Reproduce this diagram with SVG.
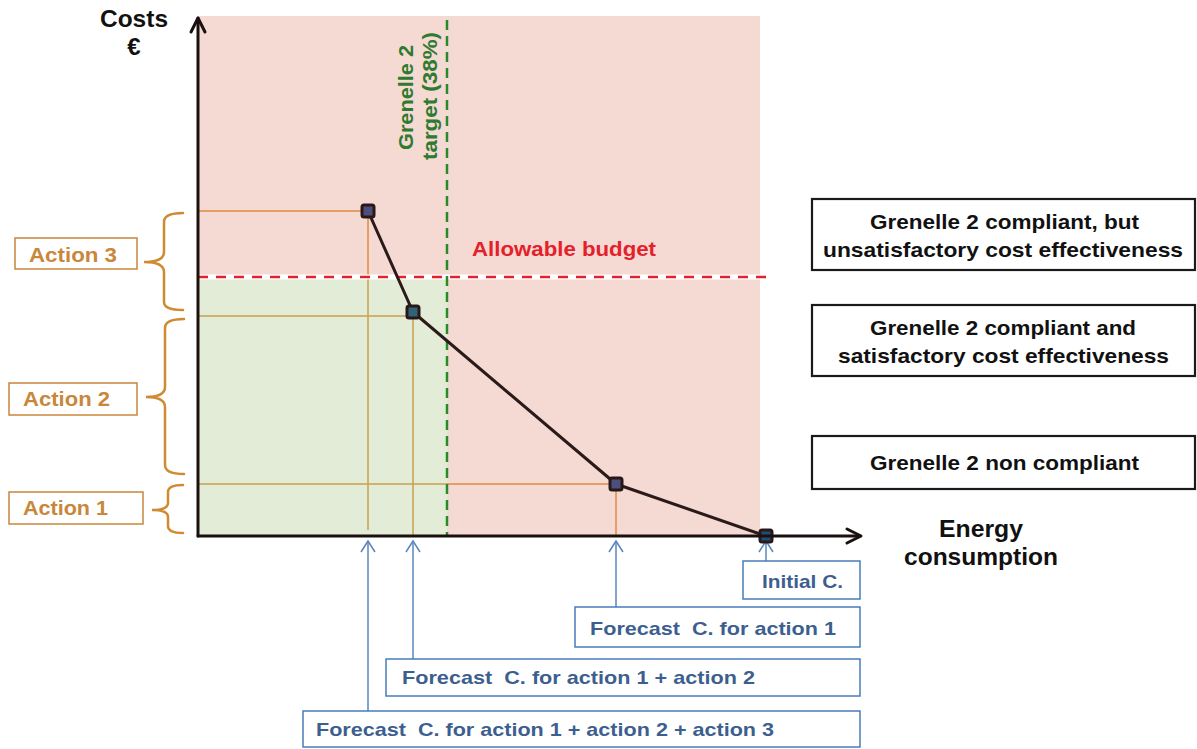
<svg xmlns="http://www.w3.org/2000/svg" width="1197" height="749" viewBox="0 0 1197 749">
<defs>
<style>
.t{font-family:"Liberation Sans",Arial,sans-serif;font-weight:bold}
.blk{fill:#111}
.act{fill:#c8873a;font-size:21px}
.actbox{fill:#fff;stroke:#c8873a;stroke-width:1.5}
.brace{fill:none;stroke:#d08a30;stroke-width:2.5;stroke-linecap:round}
.rbox{fill:#fff;stroke:#1a1a1a;stroke-width:2.2}
.rtxt{font-size:21px;fill:#111}
.bbox{fill:#fff;stroke:#4a7cba;stroke-width:1.5}
.btxt{font-size:19px;fill:#3d5f8f}
.blue{stroke:#5a86be;stroke-width:1.5;fill:none}
.orP{stroke:#e08a3e;stroke-width:1.5}
.orG{stroke:#c9a24c;stroke-width:1.5}
.mk{stroke:#2a1818;stroke-width:3;stroke-linejoin:round}
</style>
</defs>
<rect width="1197" height="749" fill="#fff"/>
<g id="plot-area">
<rect x="198" y="16" width="562" height="520" fill="#f5d9d3"/>
<rect x="198" y="277" width="249" height="259" fill="#e3ecd6"/>
</g>
<g id="guides">
<line class="orP" x1="198" y1="211" x2="368" y2="211"/>
<line class="orP" x1="368" y1="211" x2="368" y2="277"/>
<line class="orG" x1="368" y1="277" x2="368" y2="530"/>
<line class="orG" x1="198" y1="316" x2="413" y2="316"/>
<line class="orG" x1="413" y1="312" x2="413" y2="536"/>
<line class="orG" x1="198" y1="484" x2="447" y2="484"/>
<line class="orP" x1="447" y1="484" x2="616" y2="484"/>
<line class="orP" x1="616" y1="484" x2="616" y2="536"/>
</g>
<g id="allowable-budget">
<line x1="198" y1="277" x2="768" y2="277" stroke="#fff" stroke-width="5"/>
<line x1="198" y1="277" x2="768" y2="277" stroke="#e4202a" stroke-width="2.5" stroke-dasharray="10 8"/>
<text class="t" x="472" y="256" font-size="21" fill="#e4202a" textLength="184" lengthAdjust="spacingAndGlyphs">Allowable budget</text>
</g>
<g id="grenelle-target">
<line x1="447" y1="20" x2="447" y2="536" stroke="#2a8a2a" stroke-width="2.5" stroke-dasharray="10 6"/>
<text class="t" font-size="20" fill="#2e7a2e" transform="translate(413,150) rotate(-90)" textLength="105" lengthAdjust="spacingAndGlyphs">Grenelle 2</text>
<text class="t" font-size="20" fill="#2e7a2e" transform="translate(437,160) rotate(-90)" textLength="128" lengthAdjust="spacingAndGlyphs">target (38%)</text>
</g>
<g id="connectors">
<polyline points="368,211 413,312 616,484 766,536" fill="none" stroke="#2b1a1a" stroke-width="3" stroke-linejoin="round"/>
<line class="blue" x1="368" y1="541" x2="368" y2="711"/>
<polyline class="blue" points="361,552 368,541 375,552"/>
<line class="blue" x1="413" y1="541" x2="413" y2="660"/>
<polyline class="blue" points="406,552 413,541 420,552"/>
<line class="blue" x1="616" y1="541" x2="616" y2="607"/>
<polyline class="blue" points="609,552 616,541 623,552"/>
<line class="blue" x1="766" y1="541" x2="766" y2="561"/>
<polyline class="blue" points="759,552 766,541 773,552"/>
</g>
<g id="points">
<rect class="mk" x="362" y="205" width="12" height="12" rx="2" fill="#4b4f7e"/>
<rect class="mk" x="407" y="306" width="12" height="12" rx="2" fill="#2f6377"/>
<rect class="mk" x="610" y="478" width="12" height="12" rx="2" fill="#4b4f7e"/>
<rect class="mk" x="760" y="530" width="12" height="12" rx="2" fill="#1f4c72"/>
</g>
<g id="axes" stroke="#1a1010" stroke-width="3" fill="none" stroke-linecap="round" stroke-linejoin="round">
<line x1="198" y1="536" x2="198" y2="18"/>
<polyline points="191,32 198,18 205,32"/>
<line x1="198" y1="536" x2="860" y2="536"/>
<polyline points="847,529 861,536 847,543"/>
</g>
<g id="axis-labels">
<text class="t blk" x="100" y="27" font-size="24" textLength="68" lengthAdjust="spacingAndGlyphs">Costs</text>
<text class="t blk" x="134" y="55" text-anchor="middle" font-size="24">€</text>
<text class="t blk" x="939" y="537" font-size="24" textLength="84" lengthAdjust="spacingAndGlyphs">Energy</text>
<text class="t blk" x="904" y="565" font-size="24" textLength="154" lengthAdjust="spacingAndGlyphs">consumption</text>
</g>
<g id="action3">
<rect class="actbox" x="15" y="238" width="122" height="31"/>
<text class="t act" x="29" y="262" textLength="88" lengthAdjust="spacingAndGlyphs">Action 3</text>
<path class="brace" d="M183,213 Q164,213 164,222 L164,252 Q164,262 144,262 Q164,262 164,272 L164,302 Q164,310 183,310"/>
</g>
<g id="action2">
<rect class="actbox" x="9" y="383" width="128" height="32"/>
<text class="t act" x="23" y="406" textLength="87" lengthAdjust="spacingAndGlyphs">Action 2</text>
<path class="brace" d="M184,319 Q165,319 165,328 L165,387 Q165,397 146,397 Q165,397 165,407 L165,465 Q165,474 184,474"/>
</g>
<g id="action1">
<rect class="actbox" x="9" y="492" width="134" height="32"/>
<text class="t act" x="23" y="515" textLength="85" lengthAdjust="spacingAndGlyphs">Action 1</text>
<path class="brace" d="M183,485 Q168,485 168,492 L168,503 Q168,510 152,510 Q168,510 168,517 L168,526 Q168,533 183,533"/>
</g>
<g id="zone-unsatisfactory">
<rect class="rbox" x="812" y="199" width="383" height="71"/>
<text class="t rtxt" x="870" y="229" textLength="269" lengthAdjust="spacingAndGlyphs">Grenelle 2 compliant, but</text>
<text class="t rtxt" x="823" y="257" textLength="360" lengthAdjust="spacingAndGlyphs">unsatisfactory cost effectiveness</text>
</g>
<g id="zone-satisfactory">
<rect class="rbox" x="812" y="305" width="383" height="71"/>
<text class="t rtxt" x="870" y="335" textLength="266" lengthAdjust="spacingAndGlyphs">Grenelle 2 compliant and</text>
<text class="t rtxt" x="838" y="363" textLength="331" lengthAdjust="spacingAndGlyphs">satisfactory cost effectiveness</text>
</g>
<g id="zone-noncompliant">
<rect class="rbox" x="812" y="436" width="383" height="53"/>
<text class="t rtxt" x="870" y="470" textLength="269" lengthAdjust="spacingAndGlyphs">Grenelle 2 non compliant</text>
</g>
<g id="initial">
<rect class="bbox" x="743" y="561" width="117" height="38"/>
<text class="t btxt" x="762" y="588" textLength="81" lengthAdjust="spacingAndGlyphs">Initial C.</text>
</g>
<g id="forecast1">
<rect class="bbox" x="575" y="607" width="285" height="40"/>
<text class="t btxt" x="590" y="635" textLength="246" lengthAdjust="spacingAndGlyphs" xml:space="preserve">Forecast  C. for action 1</text>
</g>
<g id="forecast12">
<rect class="bbox" x="386" y="659" width="474" height="37"/>
<text class="t btxt" x="402" y="684" textLength="353" lengthAdjust="spacingAndGlyphs" xml:space="preserve">Forecast  C. for action 1 + action 2</text>
</g>
<g id="forecast123">
<rect class="bbox" x="303" y="711" width="557" height="36"/>
<text class="t btxt" x="316" y="736" textLength="458" lengthAdjust="spacingAndGlyphs" xml:space="preserve">Forecast  C. for action 1 + action 2 + action 3</text>
</g>
</svg>
